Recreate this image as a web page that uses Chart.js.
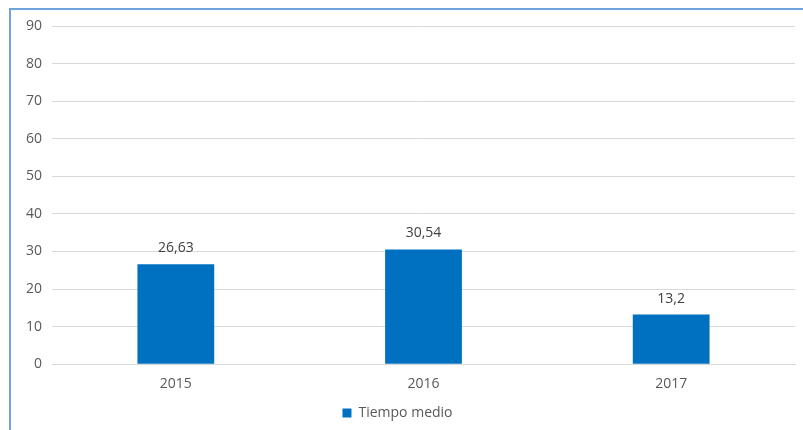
<!DOCTYPE html>
<html>
<head>
<meta charset="utf-8">
<script src="https://cdn.jsdelivr.net/npm/chart.js@4/dist/chart.umd.min.js"></script>
<style>
  html, body { margin: 0; padding: 0; background: #fff; }
  #frame {
    position: absolute; left: 9px; top: 8px; width: 820px; height: 440px;
    border-left: 2px solid #6fa3dc; border-top: 2px solid #6fa3dc;
  }
  #wrap { position: absolute; left: 0; top: 0; width: 803px; height: 430px; }
</style>
</head>
<body>
<div id="frame"></div>
<div id="wrap"><canvas id="chart" width="803" height="430"></canvas></div>
<script>
const years = ['2015', '2016', '2017'];
const tiempoMedio = [26.63, 30.54, 13.2];
const seriesName = 'Tiempo medio';

const fmt = v => String(v).replace('.', ',');

// value labels above each bar
const barLabels = {
    id: 'barLabels',
    afterDatasetsDraw(chart) {
        const ctx = chart.ctx;
        const meta = chart.getDatasetMeta(0);
        ctx.save();
        ctx.font = '14px "Open Sans"';
        ctx.fillStyle = '#404040';
        ctx.textAlign = 'center';
        ctx.textBaseline = 'bottom';
        meta.data.forEach((bar, i) => {
            ctx.fillText(fmt(tiempoMedio[i]), bar.x, bar.y - 9);
        });
        ctx.restore();
    }
};

new Chart(document.getElementById('chart'), {
    type: 'bar',
    data: {
        labels: years,
        datasets: [{
            label: seriesName,
            data: tiempoMedio,
            backgroundColor: '#0070c0',
            barPercentage: 0.62,
            categoryPercentage: 0.5
        }]
    },
    options: {
        responsive: false,
        animation: false,
        layout: { padding: { top: 26, right: 8, bottom: 0, left: 0 } },
        scales: {
            y: {
                min: 0, max: 90,
                ticks: { stepSize: 10, color: '#595959', font: { size: 14, family: 'Open Sans' }, padding: 10 },
                grid: { color: '#d9d9d9', drawTicks: false },
                border: { display: false },
                afterFit: s => { s.width = 52; }
            },
            x: {
                ticks: { color: '#595959', font: { size: 14, family: 'Open Sans' }, padding: 3 },
                grid: { display: false },
                border: { color: '#d9d9d9' }
            }
        },
        plugins: {
            legend: {
                position: 'bottom',
                labels: {
                    color: '#595959',
                    font: { size: 14, family: 'Open Sans' },
                    boxWidth: 9, boxHeight: 9,
                    padding: 11
                }
            },
            tooltip: { enabled: false }
        }
    },
    plugins: [barLabels]
});
</script>
</body>
</html>
